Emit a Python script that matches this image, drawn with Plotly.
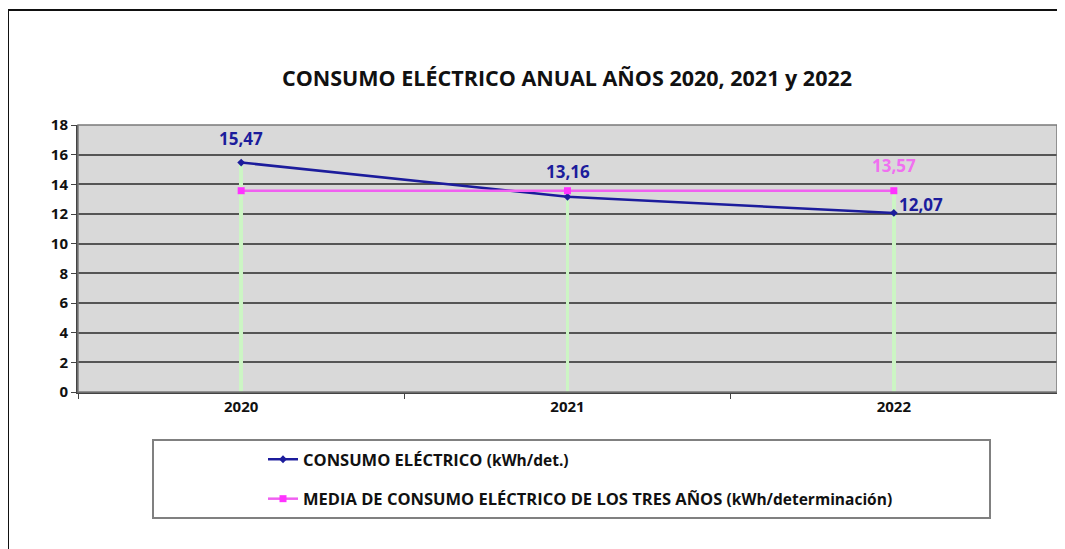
import plotly.graph_objects as go
import numpy as np

years = ["2020", "2021", "2022"]
consumo = [15.47, 13.16, 12.07]
media = [13.57, 13.57, 13.57]
y_ticks = [0, 2, 4, 6, 8, 10, 12, 14, 16, 18]

# page body has an 8px margin; work in screen coordinates and subtract it
OFF = 8
SW, SH = 1065, 549
W, H = SW - OFF, SH - OFF
L, R, T, B = 78, 1057, 125, 392  # plot area, screen px

def px(x):
    return (x - L) / (R - L)

def py(y):
    return (B - y) / (B - T)

FONT = "Open Sans"
BLUE = "#1c1c9c"
PINK = "#ff33ff"
fmt = lambda v: f"{v:.2f}".replace(".", ",")

fig = go.Figure()

drop = np.maximum(consumo, media)
fig.add_trace(go.Bar(x=years, y=drop, width=0.012, marker=dict(color="#ccf5c4", line=dict(width=0)),
                     showlegend=False, hoverinfo="skip"))

fig.add_trace(go.Scatter(x=years, y=consumo, mode="lines+markers",
                         name="CONSUMO ELÉCTRICO <span style='font-size:15.5px'>(kWh/det.)</span>",
                         line=dict(color=BLUE, width=2.5), marker=dict(symbol="diamond", size=6, color=BLUE),
                         legendgroup="a"))
fig.add_trace(go.Scatter(x=years, y=media, mode="lines+markers",
                         name="MEDIA DE CONSUMO ELÉCTRICO DE LOS TRES AÑOS <span style='font-size:15.5px'>(kWh/determinación)</span>",
                         line=dict(color="#f060f0", width=2.5), marker=dict(symbol="square", size=7, color=PINK),
                         legendgroup="b"))

lab_font = lambda c: dict(family=FONT, size=17, color=c, weight="bold")
ann = [
    dict(x=0, y=consumo[0], text=fmt(consumo[0]), showarrow=False, yshift=24, font=lab_font(BLUE)),
    dict(x=1, y=consumo[1], text=fmt(consumo[1]), showarrow=False, yshift=25, font=lab_font(BLUE)),
    dict(x=2, y=consumo[2], text=fmt(consumo[2]), showarrow=False, xanchor="left", xshift=3, yshift=8,
         font=lab_font(BLUE)),
    dict(x=2, y=media[2], text=fmt(media[2]), showarrow=False, yshift=25, font=lab_font("#f070f0")),
]

shapes = [
    dict(type="rect", xref="paper", yref="paper", x0=px(8), x1=px(1100), y0=py(600), y1=py(10),
         line=dict(color="#111", width=2), layer="below"),
    dict(type="rect", xref="paper", yref="paper", x0=0, x1=1, y0=0, y1=1,
         line=dict(color="#7a7a7a", width=1.5)),
    dict(type="rect", xref="paper", yref="paper", x0=px(153), x1=px(990), y0=py(518), y1=py(440),
         line=dict(color="#808080", width=2)),
]

fig.update_layout(
    width=W, height=H,
    margin=dict(l=L - OFF, r=SW - R, t=T - OFF, b=SH - B),
    paper_bgcolor="white", plot_bgcolor="#d9d9d9",
    title=dict(text="CONSUMO ELÉCTRICO ANUAL AÑOS 2020, 2021 y 2022", x=(567 - OFF) / W, xanchor="center",
               y=1 - (78 - OFF) / H, yanchor="middle",
               font=dict(family=FONT, size=21.5, color="#111", weight="bold")),
    showlegend=True,
    legend=dict(x=px(263), y=py(442), xanchor="left", yanchor="top", traceorder="grouped",
                tracegroupgap=15, bgcolor="rgba(0,0,0,0)",
                font=dict(family=FONT, size=16.5, color="#111", weight="bold")),
    annotations=ann, shapes=shapes,
    bargap=0,
)
fig.update_xaxes(type="category", range=[-0.5, 2.5], tickson="boundaries", ticks="outside", ticklen=5,
                 tickcolor="#444", showgrid=False, showline=True, linecolor="#444", linewidth=2,
                 tickfont=dict(family=FONT, size=15, color="#111", weight="bold"))
fig.update_yaxes(range=[0, 18], tickvals=y_ticks, ticks="outside", ticklen=5, tickcolor="#444",
                 showgrid=True, gridcolor="#555", gridwidth=2, showline=True, linecolor="#444", linewidth=2,
                 zeroline=False,
                 tickfont=dict(family=FONT, size=15, color="#111", weight="bold"))

fig.write_html("out.html")
